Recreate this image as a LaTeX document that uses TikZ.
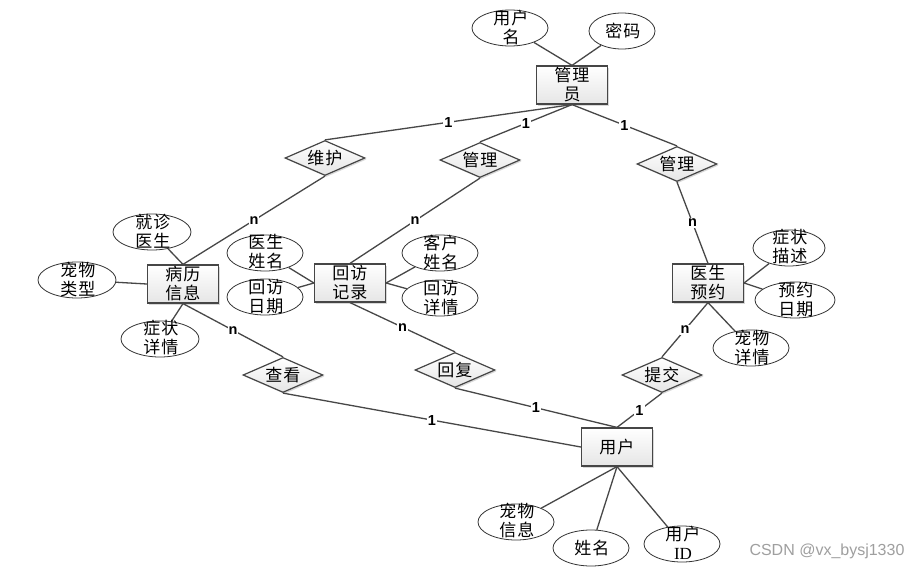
\documentclass[tikz,border=0pt]{standalone}
\usepackage{fontspec}
\newfontfamily\cjk[LetterSpace=6]{Noto Sans CJK SC}
\newfontfamily\serf{Liberation Serif}
\newfontfamily\lblf{Liberation Sans}
\usetikzlibrary{shapes.geometric,shadows}
\tikzset{
  ent/.style={rectangle, draw=gray!55!black, line width=1.2pt, top color=white, bottom color=gray!20,
    drop shadow={opacity=0.3, shadow xshift=1.5pt, shadow yshift=-1.5pt},
    minimum width=71pt, minimum height=38pt, inner sep=0pt, align=center,
    font=\cjk\fontsize{17}{19}\selectfont},
  rel/.style={diamond, draw=gray!55!black, line width=1.2pt, top color=white, bottom color=gray!20,
    drop shadow={opacity=0.3, shadow xshift=1.5pt, shadow yshift=-1.5pt},
    minimum width=80pt, minimum height=35pt, aspect=2.3, inner sep=0pt,
    font=\cjk\fontsize{17}{19}\selectfont},
  attr/.style={ellipse, draw=black!80, line width=0.8pt, fill=white,
    minimum width=76pt, minimum height=36pt, inner sep=0pt},
  atxt/.style={align=center, inner sep=0pt, font=\cjk\fontsize{17}{19}\selectfont},
  conn/.style={draw=black!72, line width=1.3pt},
  card/.style={fill=white, inner sep=1pt, pos=0.5, font=\lblf\bfseries\fontsize{14.5}{14.5}\selectfont},
}
\begin{document}
\begin{tikzpicture}[x=1pt,y=-1pt]
\useasboundingbox[fill=white] (0,0) rectangle (922,570);

% entities
\node[ent] (mgr) at (572,85) {管理\\员};
\node[ent] (bl) at (183,284) {病历\\信息};
\node[ent] (hf) at (350,283) {回访\\记录};
\node[ent] (yy) at (708,283) {医生\\预约};
\node[ent] (yh) at (617,447) {用户};

% relationships
\node[rel] (wh) at (325,158) {维护};
\node[rel] (gl1) at (480,160) {管理};
\node[rel] (gl2) at (677,164) {管理};
\node[rel] (ck) at (283,375) {查看};
\node[rel] (fu) at (455,370) {回复};
\node[rel] (tj) at (662,375) {提交};

% attributes
\node[attr] (a1) at (510,28) {};
\node[attr, minimum width=66pt] (a2) at (622,31) {};
\node[attr, minimum width=78pt] (b1) at (152,232) {};
\node[attr, minimum width=78pt] (b2) at (77,280) {};
\node[attr, minimum width=78pt] (b3) at (160,339) {};
\node[attr] (c1) at (265,253) {};
\node[attr] (c2) at (265,297) {};
\node[attr] (c3) at (440,253) {};
\node[attr] (c4) at (440,298) {};
\node[attr, minimum width=72pt] (d1) at (789,248) {};
\node[attr, minimum width=80pt] (d2) at (795,300) {};
\node[attr] (d3) at (751,348) {};
\node[attr] (e1) at (516,522) {};
\node[attr] (e2) at (591,548) {};
\node[attr] (e3) at (682,544) {};

% attribute connectors
\path[conn] (a1) -- (mgr.north);
\path[conn] (a2) -- (mgr.north);
\path[conn] (b1) -- (bl.north);
\path[conn] (b2) -- (bl.west);
\path[conn] (b3) -- (bl.south);
\path[conn] (c1) -- (hf.west);
\path[conn] (c2) -- (hf.west);
\path[conn] (c3) -- (hf.east);
\path[conn] (c4) -- (hf.east);
\path[conn] (d1) -- (yy.east);
\path[conn] (d2) -- (yy.east);
\path[conn] (d3) -- (yy.south);
\path[conn] (e1) -- (yh.south);
\path[conn] (e2) -- (yh.south);
\path[conn] (e3) -- (yh.south);

% attribute texts
\node[atxt] (a1t) at (511,27) {用户\\名};
\node[atxt] (a2t) at (623,31) {密码};
\node[atxt] (b1t) at (153,231) {就诊\\医生};
\node[atxt] (b2t) at (78,279) {宠物\\类型};
\node[atxt] (b3t) at (161,338) {症状\\详情};
\node[atxt] (c1t) at (266,252) {医生\\姓名};
\node[atxt] (c2t) at (266,297) {回访\\日期};
\node[atxt] (c3t) at (441,252) {客户\\姓名};
\node[atxt] (c4t) at (441,298) {回访\\详情};
\node[atxt] (d1t) at (790,247) {症状\\描述};
\node[atxt] (d2t) at (796,300) {预约\\日期};
\node[atxt] (d3t) at (752,347) {宠物\\详情};
\node[atxt] (e1t) at (517,521) {宠物\\信息};
\node[atxt] (e2t) at (592,548) {姓名};
\node[atxt] (e3t) at (683,543) {用户\\{\serf ID}};

% relationship connectors
\path[conn] (mgr.south) -- node[card] {1} (wh.north);
\path[conn] (mgr.south) -- node[card] {1} (gl1.north);
\path[conn] (mgr.south) -- node[card] {1} (gl2.north);
\path[conn] (wh.south) -- node[card] {n} (bl.north);
\path[conn] (gl1.south) -- node[card] {n} (hf.north);
\path[conn] (gl2.south) -- node[card] {n} (yy.north);
\path[conn] (bl.south) -- node[card] {n} (ck.north);
\path[conn] (hf.south) -- node[card] {n} (fu.north);
\path[conn] (yy.south) -- node[card] {n} (tj.north);
\path[conn] (ck.south) -- node[card] {1} (yh.west);
\path[conn] (fu.south) -- node[card] {1} (yh.north);
\path[conn] (tj.south) -- node[card] {1} (yh.north);

\node[anchor=east, text=gray!75, font=\lblf\fontsize{16}{16}\selectfont] (wm) at (908,551) {CSDN @vx\_bysj1330};
\end{tikzpicture}
\end{document}
